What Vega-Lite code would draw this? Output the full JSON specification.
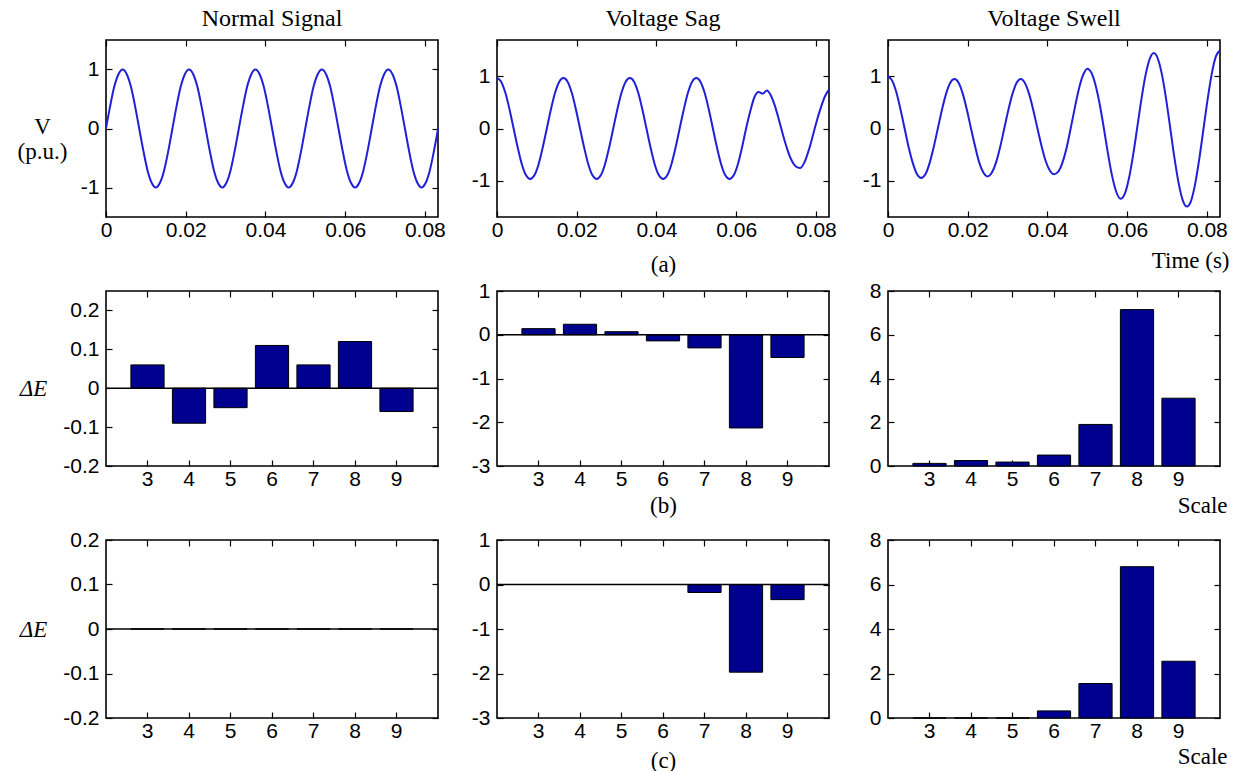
{
  "$schema": "https://vega.github.io/schema/vega-lite/v6.json",
  "background": "white",
  "padding": {"left": 16, "top": 6, "right": 5, "bottom": 5},
  "config": {
    "view": {"stroke": "black", "strokeWidth": 1.6},
    "locale": {"number": {"decimal": ".", "thousands": ",", "grouping": [3], "currency": ["$", ""], "minus": "-"}},
    "axis": {
      "domain": false, "grid": false, "ticks": true, "tickSize": -6, "tickColor": "black", "tickWidth": 1.2,
      "labelFont": "Liberation Sans", "labelFontSize": 21, "labelColor": "black", "labelFlush": false, "labelOverlap": false,
      "titleFont": "Liberation Serif", "titleFontSize": 23, "titleFontWeight": "normal", "titleColor": "black"
    },
    "axisX": {"labelPadding": 8},
    "axisY": {"labelPadding": 13},
    "title": {"font": "Liberation Serif", "fontSize": 24, "fontWeight": "normal", "color": "black", "offset": 8, "anchor": "middle"}
  },
  "datasets": {
    "wave": [
      {"t": 0, "n": 0, "sg": 0.97, "sw": 1.0},
      {"t": 0.00104, "n": 0.38, "sg": 0.9, "sw": 0.92},
      {"t": 0.00208, "n": 0.71, "sg": 0.69, "sw": 0.7},
      {"t": 0.00313, "n": 0.92, "sg": 0.37, "sw": 0.37},
      {"t": 0.00417, "n": 1, "sg": 0, "sw": 0},
      {"t": 0.00521, "n": 0.92, "sg": -0.37, "sw": -0.37},
      {"t": 0.00625, "n": 0.71, "sg": -0.69, "sw": -0.67},
      {"t": 0.00729, "n": 0.38, "sg": -0.9, "sw": -0.88},
      {"t": 0.00833, "n": 0, "sg": -0.97, "sw": -0.95},
      {"t": 0.00938, "n": -0.38, "sg": -0.9, "sw": -0.88},
      {"t": 0.01042, "n": -0.71, "sg": -0.69, "sw": -0.67},
      {"t": 0.01146, "n": -0.92, "sg": -0.37, "sw": -0.36},
      {"t": 0.0125, "n": -1, "sg": 0, "sw": 0},
      {"t": 0.01354, "n": -0.92, "sg": 0.37, "sw": 0.36},
      {"t": 0.01458, "n": -0.71, "sg": 0.69, "sw": 0.67},
      {"t": 0.01563, "n": -0.38, "sg": 0.9, "sw": 0.88},
      {"t": 0.01667, "n": 0, "sg": 0.97, "sw": 0.95},
      {"t": 0.01771, "n": 0.38, "sg": 0.9, "sw": 0.88},
      {"t": 0.01875, "n": 0.71, "sg": 0.69, "sw": 0.67},
      {"t": 0.01979, "n": 0.92, "sg": 0.37, "sw": 0.36},
      {"t": 0.02083, "n": 1, "sg": 0, "sw": 0},
      {"t": 0.02188, "n": 0.92, "sg": -0.37, "sw": -0.35},
      {"t": 0.02292, "n": 0.71, "sg": -0.69, "sw": -0.66},
      {"t": 0.02396, "n": 0.38, "sg": -0.9, "sw": -0.85},
      {"t": 0.025, "n": 0, "sg": -0.97, "sw": -0.92},
      {"t": 0.02604, "n": -0.38, "sg": -0.9, "sw": -0.85},
      {"t": 0.02708, "n": -0.71, "sg": -0.69, "sw": -0.66},
      {"t": 0.02813, "n": -0.92, "sg": -0.37, "sw": -0.36},
      {"t": 0.02917, "n": -1, "sg": 0, "sw": 0},
      {"t": 0.03021, "n": -0.92, "sg": 0.37, "sw": 0.36},
      {"t": 0.03125, "n": -0.71, "sg": 0.69, "sw": 0.67},
      {"t": 0.03229, "n": -0.38, "sg": 0.9, "sw": 0.88},
      {"t": 0.03333, "n": 0, "sg": 0.97, "sw": 0.95},
      {"t": 0.03438, "n": 0.38, "sg": 0.9, "sw": 0.87},
      {"t": 0.03542, "n": 0.71, "sg": 0.69, "sw": 0.66},
      {"t": 0.03646, "n": 0.92, "sg": 0.37, "sw": 0.35},
      {"t": 0.0375, "n": 1, "sg": 0, "sw": 0},
      {"t": 0.03854, "n": 0.92, "sg": -0.37, "sw": -0.34},
      {"t": 0.03958, "n": 0.71, "sg": -0.69, "sw": -0.63},
      {"t": 0.04063, "n": 0.38, "sg": -0.9, "sw": -0.81},
      {"t": 0.04167, "n": 0, "sg": -0.97, "sw": -0.88},
      {"t": 0.04271, "n": -0.38, "sg": -0.9, "sw": -0.83},
      {"t": 0.04375, "n": -0.71, "sg": -0.69, "sw": -0.66},
      {"t": 0.04479, "n": -0.92, "sg": -0.37, "sw": -0.38},
      {"t": 0.04583, "n": -1, "sg": 0, "sw": 0},
      {"t": 0.04688, "n": -0.92, "sg": 0.37, "sw": 0.4},
      {"t": 0.04792, "n": -0.71, "sg": 0.69, "sw": 0.77},
      {"t": 0.04896, "n": -0.38, "sg": 0.9, "sw": 1.03},
      {"t": 0.05, "n": 0, "sg": 0.97, "sw": 1.15},
      {"t": 0.05104, "n": 0.38, "sg": 0.9, "sw": 1.07},
      {"t": 0.05208, "n": 0.71, "sg": 0.69, "sw": 0.83},
      {"t": 0.05313, "n": 0.92, "sg": 0.37, "sw": 0.46},
      {"t": 0.05417, "n": 1, "sg": 0, "sw": 0},
      {"t": 0.05521, "n": 0.92, "sg": -0.37, "sw": -0.49},
      {"t": 0.05625, "n": 0.71, "sg": -0.69, "sw": -0.92},
      {"t": 0.05729, "n": 0.38, "sg": -0.9, "sw": -1.22},
      {"t": 0.05833, "n": 0, "sg": -0.97, "sw": -1.35},
      {"t": 0.05938, "n": -0.38, "sg": -0.9, "sw": -1.26},
      {"t": 0.06042, "n": -0.71, "sg": -0.69, "sw": -0.97},
      {"t": 0.06146, "n": -0.92, "sg": -0.37, "sw": -0.53},
      {"t": 0.0625, "n": -1, "sg": 0, "sw": 0},
      {"t": 0.06354, "n": -0.92, "sg": 0.33, "sw": 0.54},
      {"t": 0.06458, "n": -0.71, "sg": 0.6, "sw": 1.01},
      {"t": 0.06563, "n": -0.38, "sg": 0.7, "sw": 1.33},
      {"t": 0.06667, "n": 0, "sg": 0.67, "sw": 1.45},
      {"t": 0.06771, "n": 0.38, "sg": 0.73, "sw": 1.34},
      {"t": 0.06875, "n": 0.71, "sg": 0.63, "sw": 1.03},
      {"t": 0.06979, "n": 0.92, "sg": 0.42, "sw": 0.56},
      {"t": 0.07083, "n": 1, "sg": 0.14, "sw": 0},
      {"t": 0.07188, "n": 0.92, "sg": -0.16, "sw": -0.57},
      {"t": 0.07292, "n": 0.71, "sg": -0.42, "sw": -1.05},
      {"t": 0.07396, "n": 0.38, "sg": -0.62, "sw": -1.38},
      {"t": 0.075, "n": 0, "sg": -0.73, "sw": -1.5},
      {"t": 0.07604, "n": -0.38, "sg": -0.76, "sw": -1.39},
      {"t": 0.07708, "n": -0.71, "sg": -0.66, "sw": -1.06},
      {"t": 0.07813, "n": -0.92, "sg": -0.44, "sw": -0.57},
      {"t": 0.07917, "n": -1, "sg": -0.16, "sw": 0},
      {"t": 0.08021, "n": -0.92, "sg": 0.14, "sw": 0.57},
      {"t": 0.08125, "n": -0.71, "sg": 0.4, "sw": 1.06},
      {"t": 0.08229, "n": -0.38, "sg": 0.62, "sw": 1.39},
      {"t": 0.08333, "n": 0, "sg": 0.75, "sw": 1.5}
    ],
    "b1": [{"s": 3, "v": 0.06}, {"s": 4, "v": -0.09}, {"s": 5, "v": -0.05}, {"s": 6, "v": 0.11}, {"s": 7, "v": 0.06}, {"s": 8, "v": 0.12}, {"s": 9, "v": -0.06}],
    "b2": [{"s": 3, "v": 0.14}, {"s": 4, "v": 0.24}, {"s": 5, "v": 0.07}, {"s": 6, "v": -0.14}, {"s": 7, "v": -0.3}, {"s": 8, "v": -2.13}, {"s": 9, "v": -0.52}],
    "b3": [{"s": 3, "v": 0.12}, {"s": 4, "v": 0.25}, {"s": 5, "v": 0.18}, {"s": 6, "v": 0.5}, {"s": 7, "v": 1.9}, {"s": 8, "v": 7.15}, {"s": 9, "v": 3.1}],
    "c1": [{"s": 3, "v": 0}, {"s": 4, "v": 0}, {"s": 5, "v": 0}, {"s": 6, "v": 0}, {"s": 7, "v": 0}, {"s": 8, "v": 0}, {"s": 9, "v": 0}],
    "c2": [{"s": 3, "v": 0}, {"s": 4, "v": 0}, {"s": 5, "v": 0}, {"s": 6, "v": 0}, {"s": 7, "v": -0.18}, {"s": 8, "v": -1.97}, {"s": 9, "v": -0.34}],
    "c3": [{"s": 3, "v": 0}, {"s": 4, "v": 0}, {"s": 5, "v": 0}, {"s": 6, "v": 0.32}, {"s": 7, "v": 1.55}, {"s": 8, "v": 6.8}, {"s": 9, "v": 2.55}]
  },
  "bounds": "flush",
  "columns": 3,
  "spacing": {"row": 74, "column": 59},
  "concat": [
    {
      "width": 332, "height": 177,
      "title": {"text": "Normal Signal"},
      "data": {"name": "wave"},
      "layer": [
        {"mark": {"type": "line", "color": "#2020d8", "strokeWidth": 2, "interpolate": "monotone"},
         "encoding": {
           "x": {"field": "t", "type": "quantitative", "scale": {"domain": [0, 0.0833], "nice": false}, "axis": {"values": [0, 0.02, 0.04, 0.06, 0.08], "format": "~g", "title": null}},
           "y": {"field": "n", "type": "quantitative", "scale": {"domain": [-1.5, 1.5], "nice": false}, "axis": {"values": [-1, 0, 1], "format": "~g", "title": ["V", "(p.u.)"], "titleAngle": 0, "titleAlign": "center", "titleBaseline": "middle", "titleX": -64, "titleY": 86, "titleLineHeight": 25}}
         }},
        {"mark": {"type": "line", "strokeOpacity": 0},
         "encoding": {
           "x": {"field": "t", "type": "quantitative", "scale": {"domain": [0, 0.0833], "nice": false}, "axis": {"orient": "top", "values": [0, 0.02, 0.04, 0.06, 0.08], "labels": false, "title": null}},
           "y": {"field": "n", "type": "quantitative", "scale": {"domain": [-1.5, 1.5], "nice": false}, "axis": {"orient": "right", "values": [-1, 0, 1], "labels": false, "title": null}}
         }}
      ],
      "resolve": {"axis": {"x": "independent", "y": "independent"}}
    },
    {
      "width": 332, "height": 177,
      "title": {"text": "Voltage Sag"},
      "data": {"name": "wave"},
      "layer": [
        {"mark": {"type": "line", "color": "#2020d8", "strokeWidth": 2, "interpolate": "monotone"},
         "encoding": {
           "x": {"field": "t", "type": "quantitative", "scale": {"domain": [0, 0.0833], "nice": false}, "axis": {"values": [0, 0.02, 0.04, 0.06, 0.08], "format": "~g", "title": "(a)", "titleX": 166, "titleY": 47, "titleAlign": "center", "titleBaseline": "middle"}},
           "y": {"field": "sg", "type": "quantitative", "scale": {"domain": [-1.7, 1.7], "nice": false}, "axis": {"values": [-1, 0, 1], "format": "~g", "title": null}}
         }},
        {"mark": {"type": "line", "strokeOpacity": 0},
         "encoding": {
           "x": {"field": "t", "type": "quantitative", "scale": {"domain": [0, 0.0833], "nice": false}, "axis": {"orient": "top", "values": [0, 0.02, 0.04, 0.06, 0.08], "labels": false, "title": null}},
           "y": {"field": "sg", "type": "quantitative", "scale": {"domain": [-1.7, 1.7], "nice": false}, "axis": {"orient": "right", "values": [-1, 0, 1], "labels": false, "title": null}}
         }}
      ],
      "resolve": {"axis": {"x": "independent", "y": "independent"}}
    },
    {
      "width": 332, "height": 177,
      "title": {"text": "Voltage Swell"},
      "data": {"name": "wave"},
      "layer": [
        {"mark": {"type": "line", "color": "#2020d8", "strokeWidth": 2, "interpolate": "monotone"},
         "encoding": {
           "x": {"field": "t", "type": "quantitative", "scale": {"domain": [0, 0.0833], "nice": false}, "axis": {"values": [0, 0.02, 0.04, 0.06, 0.08], "format": "~g", "title": "Time (s)", "titleX": 341, "titleY": 43, "titleAlign": "right", "titleBaseline": "middle"}},
           "y": {"field": "sw", "type": "quantitative", "scale": {"domain": [-1.7, 1.7], "nice": false}, "axis": {"values": [-1, 0, 1], "format": "~g", "title": null}}
         }},
        {"mark": {"type": "line", "strokeOpacity": 0},
         "encoding": {
           "x": {"field": "t", "type": "quantitative", "scale": {"domain": [0, 0.0833], "nice": false}, "axis": {"orient": "top", "values": [0, 0.02, 0.04, 0.06, 0.08], "labels": false, "title": null}},
           "y": {"field": "sw", "type": "quantitative", "scale": {"domain": [-1.7, 1.7], "nice": false}, "axis": {"orient": "right", "values": [-1, 0, 1], "labels": false, "title": null}}
         }}
      ],
      "resolve": {"axis": {"x": "independent", "y": "independent"}}
    },
    {
      "width": 332, "height": 175,
      "data": {"name": "b1"},
      "layer": [
        {"mark": {"type": "bar", "color": "#00008f", "stroke": "black", "strokeWidth": 1},
         "encoding": {
           "x": {"field": "s", "type": "ordinal", "scale": {"paddingInner": 0.2, "paddingOuter": 0.6}, "axis": {"labelAngle": 0, "title": null}},
           "y": {"field": "v", "type": "quantitative", "scale": {"domain": [-0.2, 0.25], "nice": false, "zero": false}, "axis": {"values": [-0.2, -0.1, 0, 0.1, 0.2], "format": "~g", "title": "ΔE", "titleFontStyle": "italic", "titleAngle": 0, "titleAlign": "center", "titleBaseline": "middle", "titleX": -73, "titleY": 97}}
         }},
        {"mark": {"type": "bar", "opacity": 0},
         "encoding": {
           "x": {"field": "s", "type": "ordinal", "scale": {"paddingInner": 0.2, "paddingOuter": 0.6}, "axis": {"orient": "top", "labels": false, "title": null}},
           "y": {"field": "v", "type": "quantitative", "scale": {"domain": [-0.2, 0.25], "nice": false, "zero": false}, "axis": {"orient": "right", "values": [-0.2, -0.1, 0, 0.1, 0.2], "labels": false, "title": null}}
         }},
        {"data": {"values": [{}]}, "mark": {"type": "rule", "color": "black", "strokeWidth": 1.5},
         "encoding": {"y": {"datum": 0, "axis": null}}}
      ],
      "resolve": {"axis": {"x": "independent", "y": "independent"}}
    },
    {
      "width": 332, "height": 175,
      "data": {"name": "b2"},
      "layer": [
        {"mark": {"type": "bar", "color": "#00008f", "stroke": "black", "strokeWidth": 1},
         "encoding": {
           "x": {"field": "s", "type": "ordinal", "scale": {"paddingInner": 0.2, "paddingOuter": 0.6}, "axis": {"labelAngle": 0, "title": "(b)", "titleX": 166, "titleY": 39, "titleAlign": "center", "titleBaseline": "middle"}},
           "y": {"field": "v", "type": "quantitative", "scale": {"domain": [-3, 1], "nice": false, "zero": false}, "axis": {"values": [-3, -2, -1, 0, 1], "format": "~g", "title": null}}
         }},
        {"mark": {"type": "bar", "opacity": 0},
         "encoding": {
           "x": {"field": "s", "type": "ordinal", "scale": {"paddingInner": 0.2, "paddingOuter": 0.6}, "axis": {"orient": "top", "labels": false, "title": null}},
           "y": {"field": "v", "type": "quantitative", "scale": {"domain": [-3, 1], "nice": false, "zero": false}, "axis": {"orient": "right", "values": [-3, -2, -1, 0, 1], "labels": false, "title": null}}
         }},
        {"data": {"values": [{}]}, "mark": {"type": "rule", "color": "black", "strokeWidth": 1.5},
         "encoding": {"y": {"datum": 0, "axis": null}}}
      ],
      "resolve": {"axis": {"x": "independent", "y": "independent"}}
    },
    {
      "width": 332, "height": 175,
      "data": {"name": "b3"},
      "layer": [
        {"mark": {"type": "bar", "color": "#00008f", "stroke": "black", "strokeWidth": 1},
         "encoding": {
           "x": {"field": "s", "type": "ordinal", "scale": {"paddingInner": 0.2, "paddingOuter": 0.6}, "axis": {"labelAngle": 0, "title": "Scale", "titleX": 339, "titleY": 39, "titleAlign": "right", "titleBaseline": "middle"}},
           "y": {"field": "v", "type": "quantitative", "scale": {"domain": [0, 8], "nice": false}, "axis": {"values": [0, 2, 4, 6, 8], "format": "~g", "title": null}}
         }},
        {"mark": {"type": "bar", "opacity": 0},
         "encoding": {
           "x": {"field": "s", "type": "ordinal", "scale": {"paddingInner": 0.2, "paddingOuter": 0.6}, "axis": {"orient": "top", "labels": false, "title": null}},
           "y": {"field": "v", "type": "quantitative", "scale": {"domain": [0, 8], "nice": false}, "axis": {"orient": "right", "values": [0, 2, 4, 6, 8], "labels": false, "title": null}}
         }}
      ],
      "resolve": {"axis": {"x": "independent", "y": "independent"}}
    },
    {
      "width": 332, "height": 178,
      "data": {"name": "c1"},
      "layer": [
        {"mark": {"type": "bar", "color": "#00008f", "stroke": "black", "strokeWidth": 1},
         "encoding": {
           "x": {"field": "s", "type": "ordinal", "scale": {"paddingInner": 0.2, "paddingOuter": 0.6}, "axis": {"labelAngle": 0, "title": null}},
           "y": {"field": "v", "type": "quantitative", "scale": {"domain": [-0.2, 0.2], "nice": false, "zero": false}, "axis": {"values": [-0.2, -0.1, 0, 0.1, 0.2], "format": "~g", "title": "ΔE", "titleFontStyle": "italic", "titleAngle": 0, "titleAlign": "center", "titleBaseline": "middle", "titleX": -73, "titleY": 89}}
         }},
        {"mark": {"type": "bar", "opacity": 0},
         "encoding": {
           "x": {"field": "s", "type": "ordinal", "scale": {"paddingInner": 0.2, "paddingOuter": 0.6}, "axis": {"orient": "top", "labels": false, "title": null}},
           "y": {"field": "v", "type": "quantitative", "scale": {"domain": [-0.2, 0.2], "nice": false, "zero": false}, "axis": {"orient": "right", "values": [-0.2, -0.1, 0, 0.1, 0.2], "labels": false, "title": null}}
         }},
        {"data": {"values": [{}]}, "mark": {"type": "rule", "color": "black", "strokeWidth": 1.5},
         "encoding": {"y": {"datum": 0, "axis": null}}}
      ],
      "resolve": {"axis": {"x": "independent", "y": "independent"}}
    },
    {
      "width": 332, "height": 178,
      "data": {"name": "c2"},
      "layer": [
        {"mark": {"type": "bar", "color": "#00008f", "stroke": "black", "strokeWidth": 1},
         "encoding": {
           "x": {"field": "s", "type": "ordinal", "scale": {"paddingInner": 0.2, "paddingOuter": 0.6}, "axis": {"labelAngle": 0, "title": "(c)", "titleX": 166, "titleY": 42, "titleAlign": "center", "titleBaseline": "middle"}},
           "y": {"field": "v", "type": "quantitative", "scale": {"domain": [-3, 1], "nice": false, "zero": false}, "axis": {"values": [-3, -2, -1, 0, 1], "format": "~g", "title": null}}
         }},
        {"mark": {"type": "bar", "opacity": 0},
         "encoding": {
           "x": {"field": "s", "type": "ordinal", "scale": {"paddingInner": 0.2, "paddingOuter": 0.6}, "axis": {"orient": "top", "labels": false, "title": null}},
           "y": {"field": "v", "type": "quantitative", "scale": {"domain": [-3, 1], "nice": false, "zero": false}, "axis": {"orient": "right", "values": [-3, -2, -1, 0, 1], "labels": false, "title": null}}
         }},
        {"data": {"values": [{}]}, "mark": {"type": "rule", "color": "black", "strokeWidth": 1.5},
         "encoding": {"y": {"datum": 0, "axis": null}}}
      ],
      "resolve": {"axis": {"x": "independent", "y": "independent"}}
    },
    {
      "width": 332, "height": 178,
      "data": {"name": "c3"},
      "layer": [
        {"mark": {"type": "bar", "color": "#00008f", "stroke": "black", "strokeWidth": 1},
         "encoding": {
           "x": {"field": "s", "type": "ordinal", "scale": {"paddingInner": 0.2, "paddingOuter": 0.6}, "axis": {"labelAngle": 0, "title": "Scale", "titleX": 339, "titleY": 38, "titleAlign": "right", "titleBaseline": "middle"}},
           "y": {"field": "v", "type": "quantitative", "scale": {"domain": [0, 8], "nice": false}, "axis": {"values": [0, 2, 4, 6, 8], "format": "~g", "title": null}}
         }},
        {"mark": {"type": "bar", "opacity": 0},
         "encoding": {
           "x": {"field": "s", "type": "ordinal", "scale": {"paddingInner": 0.2, "paddingOuter": 0.6}, "axis": {"orient": "top", "labels": false, "title": null}},
           "y": {"field": "v", "type": "quantitative", "scale": {"domain": [0, 8], "nice": false}, "axis": {"orient": "right", "values": [0, 2, 4, 6, 8], "labels": false, "title": null}}
         }}
      ],
      "resolve": {"axis": {"x": "independent", "y": "independent"}}
    }
  ]
}
